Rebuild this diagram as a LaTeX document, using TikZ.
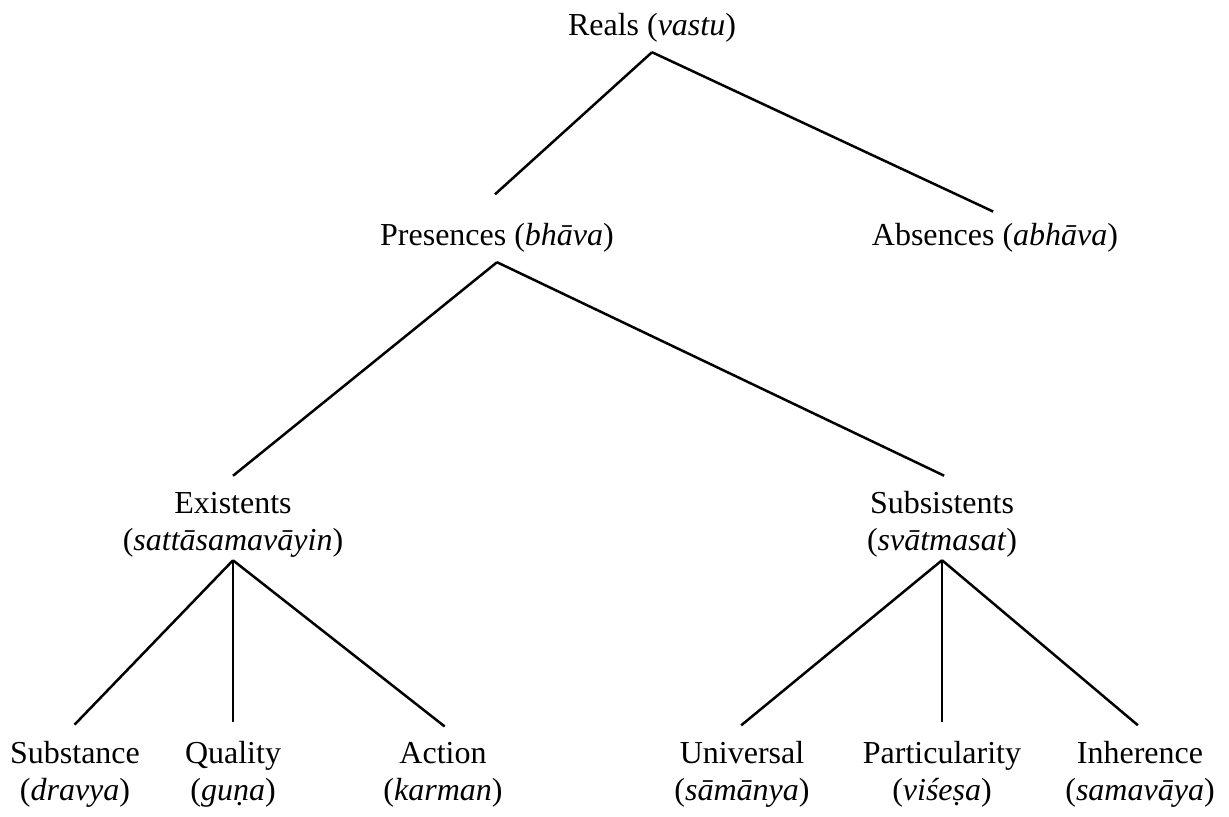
\documentclass[tikz,border=0pt]{standalone}
\usepackage{fontspec}
\setmainfont{Liberation Serif}
\usetikzlibrary{positioning}
\newcommand{\termfont}{\fontsize{16}{18.5}\selectfont}

\begin{document}
\begin{tikzpicture}[x=0.5pt,y=-0.5pt,
  term/.style={font=\termfont,align=center,anchor=base,inner sep=5pt},
  branch/.style={line width=1.25pt,shorten >=4pt}]
\useasboundingbox (0,0) rectangle (1229,816);
% upper levels (base = last line)
\node[term] (reals) at (652,35) {Reals (\textit{vastu})};
\node[term] (pres) at (497,245) {Presences (\textit{bhāva})};
\node[term] (abs) at (995,245) {Absences (\textit{abhāva})};
\node[term] (exist) at (233,550) {Existents\\(\textit{sattāsamavāyin})};
\node[term] (subsist) at (942,550) {Subsistents\\(\textit{svātmasat})};
% categories
\foreach \name/\x/\dx/\eng/\skt in {subst/75/-3/Substance/dravya,qual/233/0/Quality/guṇa,act/443/4/Action/karman}{
  \node[term] (\name) at (\x,800) {\eng\\(\textit{\skt})};
  \draw[branch] ([yshift=3.5pt]exist.south)--([xshift=\dx pt]\name.north);}
\foreach \name/\x/\dx/\eng/\skt in {univ/742/-3.5/Universal/sāmānya,partic/942/0/Particularity/viśeṣa,inher/1140/2/Inherence/samavāya}{
  \node[term] (\name) at (\x,800) {\eng\\(\textit{\skt})};
  \draw[branch] ([yshift=3.5pt]subsist.south)--([xshift=\dx pt]\name.north);}
\draw[branch,shorten >=13.5pt] (reals.south)--([xshift=-11pt]pres.north);
\draw[branch,shorten >=1pt] (reals.south)--(abs.north);
\draw[branch,shorten >=4.5pt] (pres.south)--([xshift=-3.5pt]exist.north);
\draw[branch,shorten >=5.5pt] (pres.south)--([xshift=6pt]subsist.north);
\end{tikzpicture}
\end{document}
